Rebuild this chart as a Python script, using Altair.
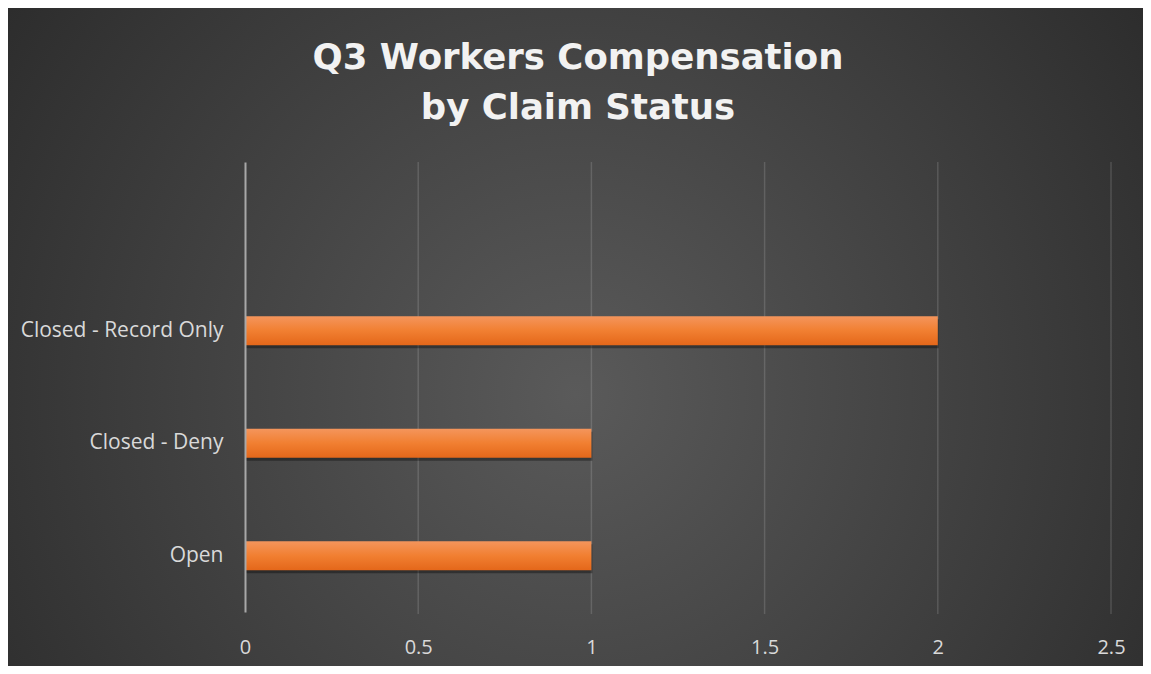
import altair as alt
import pandas as pd

categories = ["Closed - Record Only", "Closed - Deny", "Open"]
counts = [2, 1, 1]
axis_domain = [" ", "Closed - Record Only", "Closed - Deny", "Open"]
grid_values = [0.5, 1.0, 1.5, 2.0, 2.5]
tick_values = [0, 0.5, 1, 1.5, 2, 2.5]

df = pd.DataFrame({"status": categories, "count": counts})
grid_df = pd.DataFrame({"v": grid_values})
bg_df = pd.DataFrame({"k": [0]})

W, H = 866, 450
PAD_L, PAD_T, PAD_R, PAD_B = 237, 154, 32, 54

FONT = "Open Sans"

x_scale = alt.Scale(domain=[0, 2.5], nice=False, zero=True)
y_scale = alt.Scale(domain=axis_domain, paddingInner=0, paddingOuter=0)

bg = alt.Chart(bg_df).mark_rect(clip=False).encode(
    x=alt.value(-PAD_L),
    x2=alt.value(W + PAD_R),
    y=alt.value(-PAD_T),
    y2=alt.value(H + PAD_B),
    color=alt.value({
        "gradient": "radial",
        "x1": 0.5, "y1": 0.55, "r1": 0,
        "x2": 0.5, "y2": 0.55, "r2": 0.75,
        "stops": [
            {"offset": 0, "color": "#5a5a5a"},
            {"offset": 1, "color": "#222222"},
        ],
    }),
)

grid = alt.Chart(grid_df).mark_rule(color="#ffffff", opacity=0.14, strokeWidth=1.5).encode(
    x=alt.X("v:Q", scale=x_scale),
    y=alt.value(0),
    y2=alt.value(H + 2),
)

shadow = alt.Chart(df).mark_bar(size=29, color="#000000", opacity=0.35, yOffset=3, xOffset=1).encode(
    x=alt.X("count:Q", scale=x_scale),
    y=alt.Y("status:N", scale=y_scale, sort=axis_domain),
)

bars = alt.Chart(df).mark_bar(size=29).encode(
    x=alt.X(
        "count:Q", scale=x_scale, title=None,
        axis=alt.Axis(
            values=tick_values, format="~g", grid=False, domain=False, ticks=False,
            labelColor="#d9d9d9", labelFont=FONT, labelFontSize=20,
            labelPadding=25, zindex=1, labelFlush=False,
        ),
    ),
    y=alt.Y(
        "status:N", scale=y_scale, sort=axis_domain, title=None,
        axis=alt.Axis(
            domain=True, domainColor="#a8a8a8", domainWidth=2, ticks=False, grid=False,
            labelColor="#d9d9d9", labelFont=FONT, labelFontSize=21,
            labelPadding=22, labelLimit=400, zindex=1,
        ),
    ),
    color=alt.value({
        "gradient": "linear",
        "x1": 0, "y1": 0, "x2": 0, "y2": 1,
        "stops": [
            {"offset": 0, "color": "#f4955c"},
            {"offset": 0.5, "color": "#f17f31"},
            {"offset": 1, "color": "#e4671a"},
        ],
    }),
)

chart = alt.layer(bg, grid, shadow, bars).properties(
    width=W,
    height=H,
    padding={"left": PAD_L, "top": PAD_T, "right": PAD_R, "bottom": PAD_B},
    autosize=alt.AutoSizeParams(type="none"),
    title=alt.TitleParams(
        text=["Q3 Workers Compensation", "by Claim Status"],
        font="DejaVu Sans", fontSize=35.5, fontWeight="bold", color="#f2f2f2",
        lineHeight=50, anchor="middle", dx=-100, offset=0, dy=118, zindex=2,
    ),
).configure_view(stroke=None).configure(background="#2a2a2a")

chart.save("out.html", embed_options={"renderer": "svg", "actions": False})
